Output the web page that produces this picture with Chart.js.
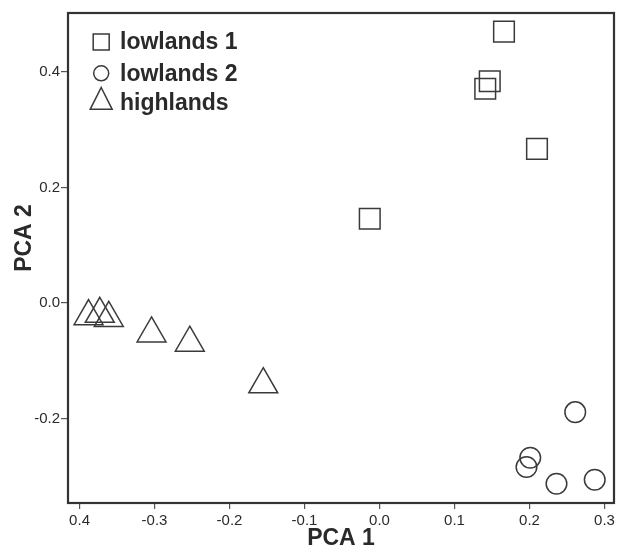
<!DOCTYPE html>
<html><head><meta charset="utf-8">
<script src="https://cdn.jsdelivr.net/npm/chart.js@4"></script>
<style>html,body{margin:0;padding:0;background:#fff;} #wrap{width:624px;height:552px;position:relative;}</style>
</head><body><div id="wrap"><canvas id="c" width="624" height="552"></canvas></div>
<script>
const seriesNames = ["lowlands 1", "lowlands 2", "highlands"];
const lowlands1X = [0.166, 0.147, 0.141, 0.210, -0.013];
const lowlands1Y = [0.470, 0.384, 0.371, 0.267, 0.146];
const lowlands2X = [0.261, 0.201, 0.196, 0.236, 0.287];
const lowlands2Y = [-0.189, -0.268, -0.284, -0.313, -0.306];
const highlandsX = [-0.388, -0.373, -0.361, -0.304, -0.253, -0.155];
const highlandsY = [-0.023, -0.019, -0.026, -0.053, -0.069, -0.141];
const xTickValues = [-0.4, -0.3, -0.2, -0.1, 0, 0.1, 0.2, 0.3];
const xTickLabels = ["0.4", "-0.3", "-0.2", "-0.1", "0.0", "0.1", "0.2", "0.3"];
const yTickValues = [-0.2, 0, 0.2, 0.4];
const yTickLabels = ["-0.2", "0.0", "0.2", "0.4"];
const xTitle = "PCA 1";
const yTitle = "PCA 2";

const toPts = (xs, ys) => xs.map((x, i) => ({x: x, y: ys[i]}));
const INK = '#3a3a3a';
const TEXT = '#2a2a2a';
const FONT = "'Liberation Sans', Arial, sans-serif";

const framePlugin = {
  id: 'frameLegend',
  afterDraw(chart) {
    const ctx = chart.ctx;
    const a = chart.chartArea;
    ctx.save();
    ctx.strokeStyle = '#333';
    ctx.lineWidth = 2.2;
    ctx.strokeRect(a.left, a.top, a.right - a.left, a.bottom - a.top);
    // y axis title
    ctx.fillStyle = TEXT;
    ctx.font = "bold 23px " + FONT;
    ctx.textAlign = 'center';
    ctx.textBaseline = 'middle';
    ctx.translate(25, 238);
    ctx.rotate(-Math.PI / 2);
    ctx.fillText(yTitle, 0, 0);
    ctx.setTransform(1, 0, 0, 1, 0, 0);
    // legend inside plot
    const rows = [
      {cy: 42, base: 49.3},
      {cy: 73.3, base: 80.5},
      {cy: 100, base: 110}
    ];
    const cx = 101.2;
    ctx.strokeStyle = INK;
    ctx.lineWidth = 1.5;
    chart.data.datasets.forEach((ds, i) => {
      const r = rows[i];
      ctx.beginPath();
      if (ds.pointStyle === 'rect') {
        ctx.rect(cx - 8, r.cy - 8, 16, 16);
      } else if (ds.pointStyle === 'circle') {
        ctx.arc(cx, r.cy, 7.5, 0, Math.PI * 2);
      } else {
        ctx.moveTo(cx, 87.5);
        ctx.lineTo(cx + 11, 109.3);
        ctx.lineTo(cx - 11, 109.3);
        ctx.closePath();
      }
      ctx.stroke();
      ctx.fillStyle = TEXT;
      ctx.font = "bold 23px " + FONT;
      ctx.textBaseline = 'alphabetic';
      ctx.textAlign = 'left';
      ctx.fillText(ds.label, 120, r.base);
    });
    ctx.restore();
  }
};

new Chart(document.getElementById('c'), {
  type: 'scatter',
  data: {
    datasets: [
      {label: seriesNames[0], data: toPts(lowlands1X, lowlands1Y), pointStyle: 'rect', pointRadius: 14.6, pointHoverRadius: 14.6},
      {label: seriesNames[1], data: toPts(lowlands2X, lowlands2Y), pointStyle: 'circle', pointRadius: 10.3, pointHoverRadius: 10.3},
      {label: seriesNames[2], data: toPts(highlandsX, highlandsY), pointStyle: 'triangle', pointRadius: 16.7, pointHoverRadius: 16.7}
    ].map(d => Object.assign(d, {borderColor: INK, backgroundColor: 'rgba(0,0,0,0)', pointBorderWidth: 1.5, borderWidth: 1.5, clip: false}))
  },
  options: {
    responsive: false,
    animation: false,
    devicePixelRatio: 1,
    layout: {autoPadding: false, padding: {left: 0, right: 10, top: 13, bottom: 0}},
    plugins: {legend: {display: false}, tooltip: {enabled: false}},
    scales: {
      x: {
        type: 'linear', min: -0.4154, max: 0.3127,
        afterBuildTicks: s => { s.ticks = xTickValues.map(v => ({value: v})); },
        afterFit: s => { s.height = 49; s.paddingLeft = 0; s.paddingRight = 0; },
        ticks: {
          callback: (v, i) => xTickLabels[i],
          font: {family: FONT, size: 15}, color: TEXT, padding: 3, maxRotation: 0, autoSkip: false
        },
        grid: {display: true, drawOnChartArea: false, drawTicks: true, tickLength: 6, color: '#555', lineWidth: 1.2},
        border: {display: false},
        title: {display: true, text: xTitle, font: {family: FONT, size: 23, weight: 'bold'}, color: TEXT, padding: {top: 0, bottom: 0}}
      },
      y: {
        type: 'linear', min: -0.3463, max: 0.5022,
        afterBuildTicks: s => { s.ticks = yTickValues.map(v => ({value: v})); },
        afterFit: s => { s.width = 68; s.paddingTop = 0; s.paddingBottom = 0; },
        ticks: {
          callback: (v, i) => yTickLabels[i],
          font: {family: FONT, size: 15}, color: TEXT, padding: 1, autoSkip: false
        },
        grid: {display: true, drawOnChartArea: false, drawTicks: true, tickLength: 7, color: '#555', lineWidth: 1.2},
        border: {display: false},
        title: {display: false}
      }
    }
  },
  plugins: [framePlugin]
});
</script>
</body></html>
